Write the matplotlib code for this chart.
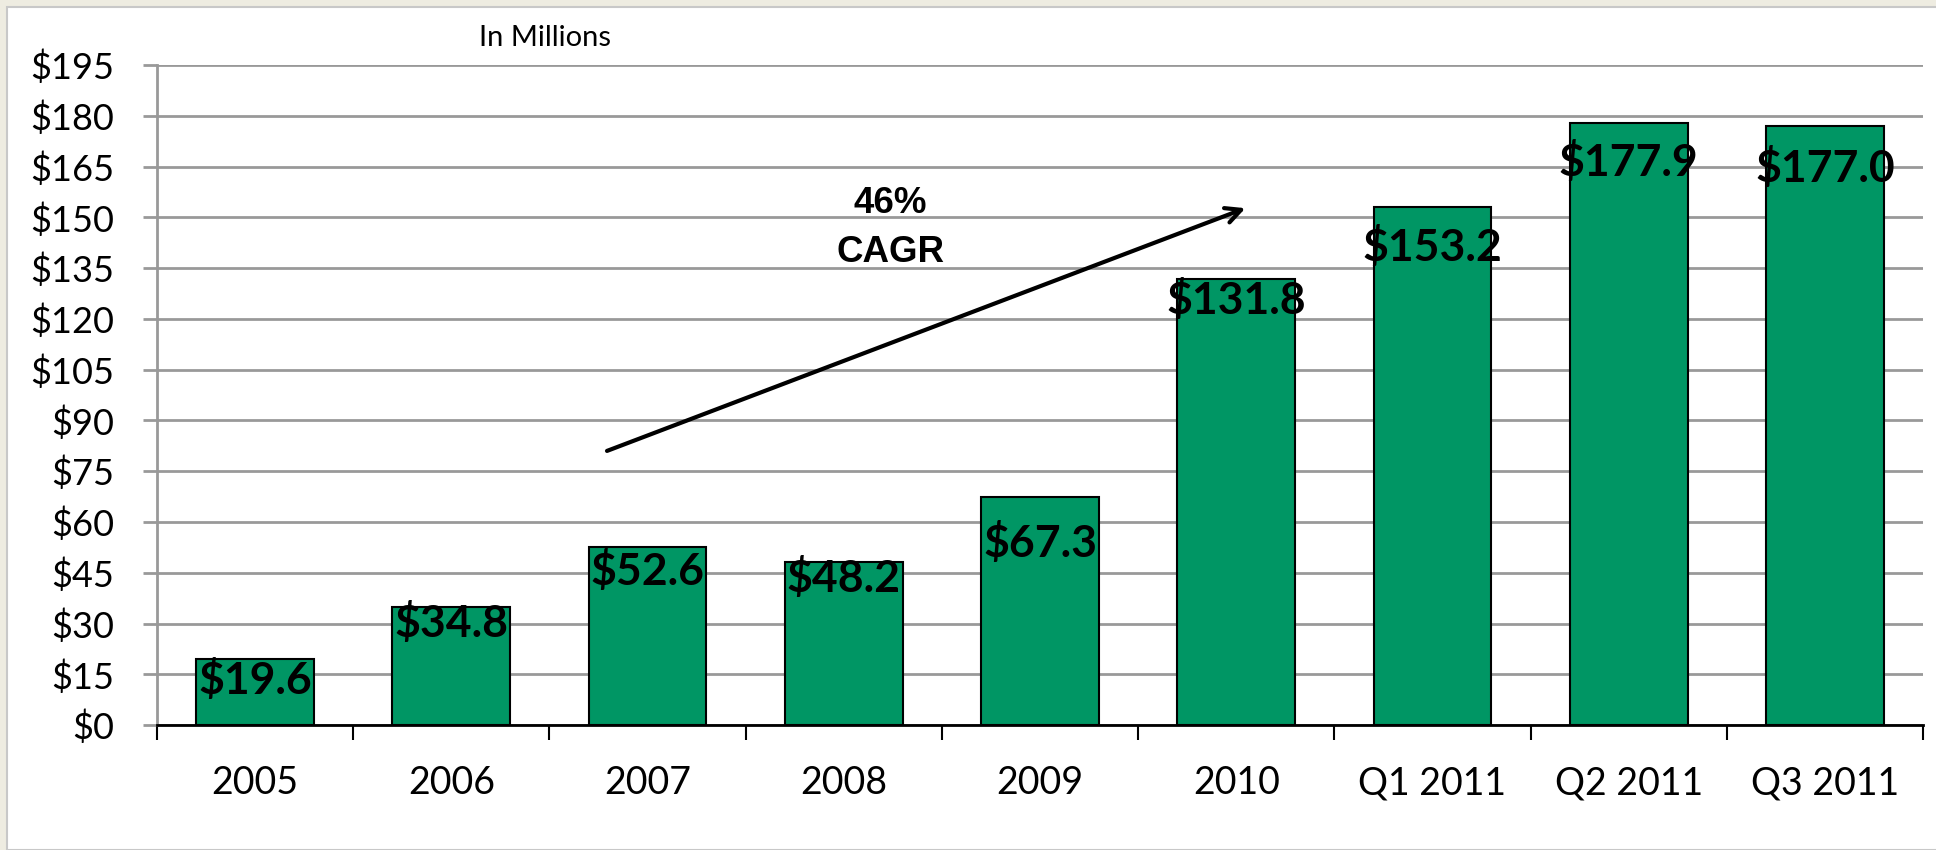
import matplotlib
matplotlib.use("Agg")
import matplotlib.pyplot as plt
from matplotlib.patches import Rectangle

# data (in millions)
periods = ["2005", "2006", "2007", "2008", "2009", "2010",
           "Q1 2011", "Q2 2011", "Q3 2011"]
values = [19.6, 34.8, 52.6, 48.2, 67.3, 131.8, 153.2, 177.9, 177.0]
y_ticks = list(range(0, 196, 15))
cagr_text = "46%\nCAGR"
cagr_from = (1.78, 80.7)
cagr_to = (5.06, 153.0)

# how far (points) each value label sits below its bar top, as in the slide
label_drop = [15, 11.5, 17, 11.5, 33, 15, 29, 28.5, 30]

bar_color = "#009664"
grid_color = "#999999"

fig = plt.figure(figsize=(19.36, 8.5), dpi=100)
fig.patch.set_facecolor("#EEECE1")
# white slide area with a thin grey frame
fig.patches.append(Rectangle((7 / 1936, 0), 1.0, 1 - 7 / 850,
                             transform=fig.transFigure, facecolor="white",
                             edgecolor="#C8C8C8", linewidth=1.5, zorder=-10))

ax = fig.add_axes([0.0811, 0.147, 0.9122, 0.7765])
ax.set_facecolor("none")

x = list(range(len(periods)))
bars = ax.bar(x, values, width=0.6, color=bar_color, edgecolor="black",
              linewidth=1.5, zorder=3)

# value labels inside the top of each bar
for rect, v, drop in zip(bars, values, label_drop):
    ax.annotate("$%.1f" % v, (rect.get_x() + rect.get_width() / 2, v),
                xytext=(0, -drop), textcoords="offset points",
                ha="center", va="center", fontsize=32, fontweight="bold",
                family=["Lato", "DejaVu Sans"], color="black", zorder=5)

# CAGR arrow and text
ax.annotate("", xy=cagr_to, xytext=cagr_from,
            arrowprops=dict(arrowstyle="->,head_length=1.1,head_width=0.55",
                            color="black", lw=3), zorder=6)
ax.text(3.236, 146.8, cagr_text, ha="center", va="center", fontsize=26.5,
        fontweight="bold", family=["Liberation Sans", "DejaVu Sans"],
        linespacing=1.5, zorder=6)

ax.set_xlim(-0.5, len(periods) - 0.5)
ax.set_ylim(0, 195)
ax.set_yticks(y_ticks)
ax.set_yticklabels(["$%d" % t for t in y_ticks])
ax.yaxis.grid(True, color=grid_color, linewidth=2, zorder=0)
ax.set_axisbelow(True)

# category labels in the middle, tick marks on the boundaries
ax.set_xticks(x)
ax.set_xticklabels(periods)
ax.set_xticks([i - 0.5 for i in range(len(periods) + 1)], minor=True)
ax.tick_params(axis="x", which="major", length=0, pad=29)
ax.tick_params(axis="x", which="minor", length=11, width=1.5,
               color="black", direction="out")
ax.tick_params(axis="y", length=10, width=2, color=grid_color, pad=21)
for lbl in ax.get_xticklabels():
    lbl.set_family(["Lato", "DejaVu Sans"])
    lbl.set_fontsize(27)
for lbl in ax.get_yticklabels():
    lbl.set_family(["Lato", "DejaVu Sans"])
    lbl.set_fontsize(26)

ax.spines["top"].set_visible(False)
ax.spines["right"].set_visible(False)
ax.spines["left"].set_color(grid_color)
ax.spines["left"].set_linewidth(2)
ax.spines["bottom"].set_color("black")
ax.spines["bottom"].set_linewidth(2)
ax.spines["bottom"].set_zorder(4)

fig.text(545 / 1936, 1 - 38 / 850, "In Millions", ha="center", va="center",
         fontsize=21, family=["Lato", "DejaVu Sans"])

fig.savefig("out.png", dpi=100, facecolor=fig.get_facecolor())
